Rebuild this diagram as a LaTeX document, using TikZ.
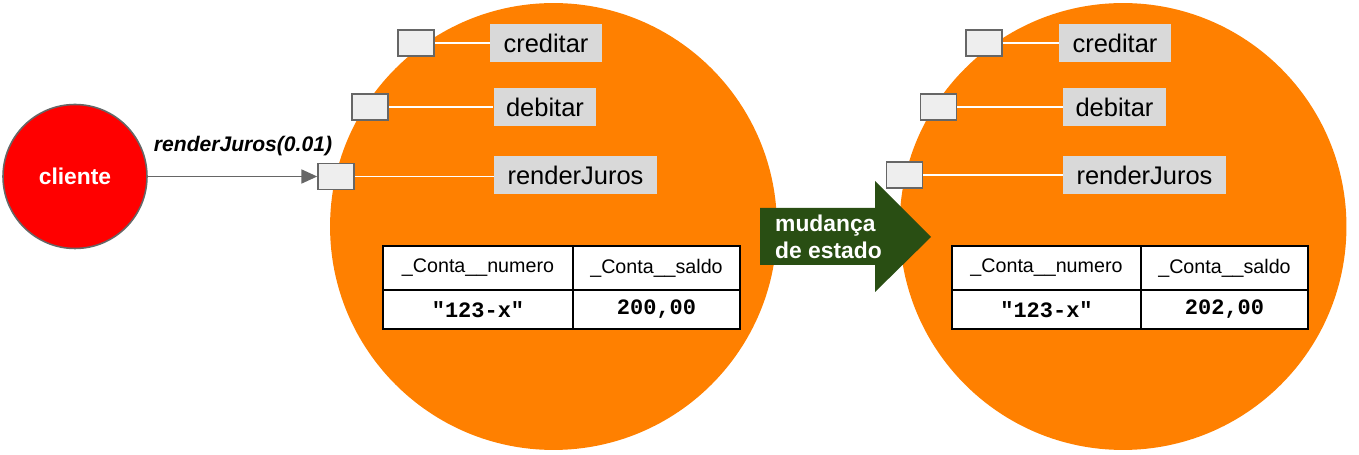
\documentclass[tikz,border=0pt]{standalone}
\usepackage{fontspec}
\setmainfont{Liberation Sans}
\setmonofont{Liberation Mono}
\usetikzlibrary{arrows.meta}
\definecolor{laranja}{HTML}{FF8000}
\definecolor{vermelho}{HTML}{FF0000}
\definecolor{verdeseta}{HTML}{294E13}
\definecolor{cinzaporta}{HTML}{EEEEEE}
\definecolor{cinzarotulo}{HTML}{D9D9D9}
\definecolor{borda}{HTML}{666666}
\tikzset{
  objeto/.style={circle, fill=laranja, draw=none, minimum size=8.94cm, inner sep=0pt},
  porta/.style={rectangle, fill=cinzaporta, draw=borda, line width=0.9pt, minimum width=0.72cm, minimum height=0.52cm, inner sep=0pt},
  metodo/.style={rectangle, fill=cinzarotulo, draw=none, minimum height=0.76cm, inner sep=0pt, font=\fontsize{14.5}{16}\selectfont},
  ligacao/.style={white, line width=0.9pt},
  celula/.style={rectangle, draw=black, fill=white, line width=1.1pt, inner sep=0pt, font=\fontsize{11.2}{13}\selectfont},
  valor/.style={celula, font=\ttfamily\bfseries\fontsize{12.5}{14}\selectfont},
}
\begin{document}
\begin{tikzpicture}[x=0.02cm, y=-0.02cm]
  \useasboundingbox (0,0) rectangle (1359,455);
  % cliente
  \node[circle, fill=vermelho, draw=borda, line width=0.9pt, minimum size=2.88cm, inner sep=0pt,
        text=white, font=\bfseries\fontsize{13}{15}\selectfont] (cliente) at (75,176.5) {cliente};
  % objeto antes
  \node[objeto] (contaA) at (553.5,226.5) {};
  \node[porta] (pcredA) at (416,43) {};
  \node[porta] (pdebA) at (370,107) {};
  \node[porta] (pjurA) at (336,176.5) {};
  \node[metodo, minimum width=2.24cm] (mcredA) at (546,43) {creditar};
  \node[metodo, minimum width=2.06cm] (mdebA) at (545,107) {debitar};
  \node[metodo, minimum width=3.26cm] (mjurA) at (575.5,175) {renderJuros};
  \draw[ligacao] (pcredA) -- (mcredA);
  \draw[ligacao] (pdebA) -- (mdebA);
  \draw[ligacao] (pjurA.east) -- (pjurA.east -| mjurA.west);
  % atributos antes
  \node[celula, minimum width=3.8cm, minimum height=0.88cm] (numA) at (478,268) {\_Conta\_\_numero};
  \node[celula, minimum width=3.34cm, minimum height=0.88cm] (salA) at (656.5,268) {\_Conta\_\_saldo};
  \node[valor, minimum width=3.8cm, minimum height=0.78cm] (vnumA) at (478,309.5) {"123-x"};
  \node[valor, minimum width=3.34cm, minimum height=0.78cm] (vsalA) at (656.5,309.5) {200,00};
  % mensagem
  \draw[-{Triangle[length=9pt,width=8pt]}, borda, line width=0.9pt] (cliente) -- (pjurA);
  \node[font=\bfseries\itshape\fontsize{12}{14}\selectfont] (msg) at (243,146) {renderJuros(0.01)};
  % objeto depois
  \node[objeto] (contaB) at (1123,226.5) {};
  % seta de estado
  \fill[verdeseta] (760,208) -- (875,208) -- (875,181) -- (931,237) -- (875,292) -- (875,265) -- (760,265) -- cycle;
  \node[text=white, align=left, anchor=west, font=\bfseries\fontsize{13}{15.5}\selectfont] (estado) at (769,237) {mudança\\de estado};
  \node[porta] (pcredB) at (984,43) {};
  \node[porta] (pdebB) at (938.5,107) {};
  \node[porta] (pjurB) at (904.5,175) {};
  \node[metodo, minimum width=2.24cm] (mcredB) at (1115,43) {creditar};
  \node[metodo, minimum width=2.06cm] (mdebB) at (1114.5,107) {debitar};
  \node[metodo, minimum width=3.26cm] (mjurB) at (1144.5,175) {renderJuros};
  \draw[ligacao] (pcredB) -- (mcredB);
  \draw[ligacao] (pdebB) -- (mdebB);
  \draw[ligacao] (pjurB) -- (mjurB);
  % atributos depois
  \node[celula, minimum width=3.78cm, minimum height=0.88cm] (numB) at (1046.5,268) {\_Conta\_\_numero};
  \node[celula, minimum width=3.34cm, minimum height=0.88cm] (salB) at (1224.5,268) {\_Conta\_\_saldo};
  \node[valor, minimum width=3.78cm, minimum height=0.78cm] (vnumB) at (1046.5,309.5) {"123-x"};
  \node[valor, minimum width=3.34cm, minimum height=0.78cm] (vsalB) at (1224.5,309.5) {202,00};
\end{tikzpicture}
\end{document}
